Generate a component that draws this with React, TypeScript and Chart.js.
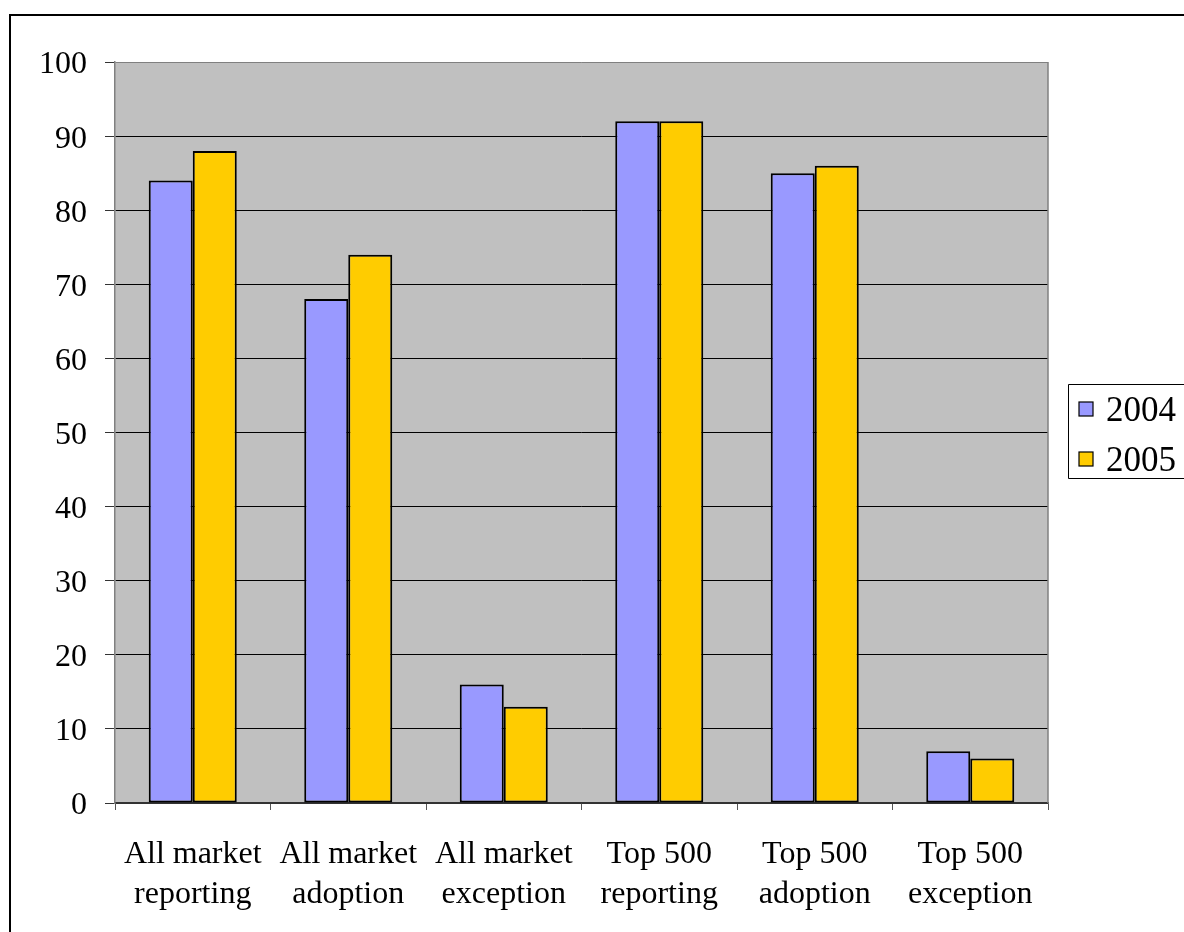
import React, { useEffect, useRef } from "react";
import { Chart, registerables } from "chart.js";

Chart.register(...registerables);

const categories: string[][] = [
  ["All market", "reporting"],
  ["All market", "adoption"],
  ["All market", "exception"],
  ["Top 500", "reporting"],
  ["Top 500", "adoption"],
  ["Top 500", "exception"],
];
const seriesNames = ["2004", "2005"];
const values2004 = [84, 68, 16, 92, 85, 7];
const values2005 = [88, 74, 13, 92, 86, 6];
const seriesColors = ["#9999FF", "#FFCC00"];
const yTicks = [0, 10, 20, 30, 40, 50, 60, 70, 80, 90, 100];

const FONT = "'Liberation Serif', 'Times New Roman', serif";

const framePlugin = {
  id: "framePlugin",
  beforeDraw(chart: any) {
    const { ctx, chartArea } = chart;
    ctx.save();
    ctx.fillStyle = "#C0C0C0";
    ctx.fillRect(chartArea.left, chartArea.top, chartArea.right - chartArea.left, chartArea.bottom - chartArea.top);
    ctx.restore();
  },
  afterDraw(chart: any) {
    const { ctx, chartArea, width, height } = chart;
    ctx.save();
    // right border of plot area
    ctx.strokeStyle = "#808080";
    ctx.lineWidth = 1.5;
    ctx.beginPath();
    ctx.moveTo(chartArea.right, chartArea.top);
    ctx.lineTo(chartArea.right, chartArea.bottom);
    ctx.stroke();
    // outer frame
    ctx.strokeStyle = "#000";
    ctx.lineWidth = 2;
    ctx.beginPath();
    ctx.moveTo(10, height + 5);
    ctx.lineTo(10, 15);
    ctx.lineTo(width + 5, 15);
    ctx.stroke();
    // legend
    const lx = 1068.5;
    const ly = 384.5;
    ctx.lineWidth = 1;
    ctx.strokeStyle = "#000";
    ctx.beginPath();
    ctx.moveTo(width + 5, ly);
    ctx.lineTo(lx, ly);
    ctx.lineTo(lx, 478.5);
    ctx.lineTo(width + 5, 478.5);
    ctx.stroke();
    ctx.font = `35px ${FONT}`;
    ctx.textBaseline = "alphabetic";
    ctx.textAlign = "left";
    seriesNames.forEach((name, i) => {
      const cy = 409 + i * 50;
      ctx.fillStyle = seriesColors[i];
      ctx.fillRect(1079, cy - 7, 14, 14);
      ctx.strokeStyle = "#000";
      ctx.lineWidth = 1.2;
      ctx.strokeRect(1079, cy - 7, 14, 14);
      ctx.fillStyle = "#000";
      ctx.fillText(name, 1106, cy + 12);
    });
    ctx.restore();
  },
};

export default function App() {
  const ref = useRef<HTMLCanvasElement | null>(null);

  useEffect(() => {
    if (!ref.current) return;
    const chart = new Chart(ref.current, {
      type: "bar",
      data: {
        labels: categories,
        datasets: seriesNames.map((name, i) => ({
          label: name,
          data: i === 0 ? values2004 : values2005,
          backgroundColor: seriesColors[i],
          borderColor: "#000",
          borderWidth: 2,
          borderSkipped: false,
          categoryPercentage: 0.566,
          barPercentage: 1,
        })),
      },
      options: {
        responsive: false,
        animation: false,
        devicePixelRatio: 1,
        layout: { padding: { left: 0, top: 62, right: 136, bottom: 0 } },
        plugins: {
          legend: { display: false },
          tooltip: { enabled: false },
        },
        scales: {
          x: {
            grid: {
              offset: true,
              drawOnChartArea: false,
              drawTicks: true,
              tickLength: 7,
              tickColor: "#555",
            },
            border: { color: "#333", width: 1.5 },
            ticks: {
              color: "#000",
              font: { family: FONT, size: 32, lineHeight: 1.25 },
              padding: 25,
              maxRotation: 0,
              autoSkip: false,
            },
            afterFit(scale: any) {
              scale.height = 129;
            },
          },
          y: {
            min: 0,
            max: 100,
            afterBuildTicks(scale: any) {
              scale.ticks = yTicks.map((v) => ({ value: v }));
            },
            grid: {
              color: (ctx: any) => (ctx.tick && ctx.tick.value === 100 ? "#808080" : ctx.tick && ctx.tick.value === 0 ? "#333" : "#000"),
              lineWidth: 1,
              tickLength: 10,
              tickColor: "#333",
            },
            border: { color: "#808080", width: 1.5 },
            ticks: {
              color: "#000",
              font: { family: FONT, size: 32 },
              padding: 18,
              labelOffset: 3,
            },
            afterFit(scale: any) {
              scale.width = 115;
            },
          },
        },
      },
      plugins: [framePlugin],
    });
    return () => chart.destroy();
  }, []);

  return (
    <div style={{ position: "fixed", left: 0, top: 0, width: 1184, height: 932, overflow: "hidden", background: "#fff" }}>
      <canvas ref={ref} width={1184} height={932} style={{ display: "block", width: 1184, height: 932 }} />
    </div>
  );
}
